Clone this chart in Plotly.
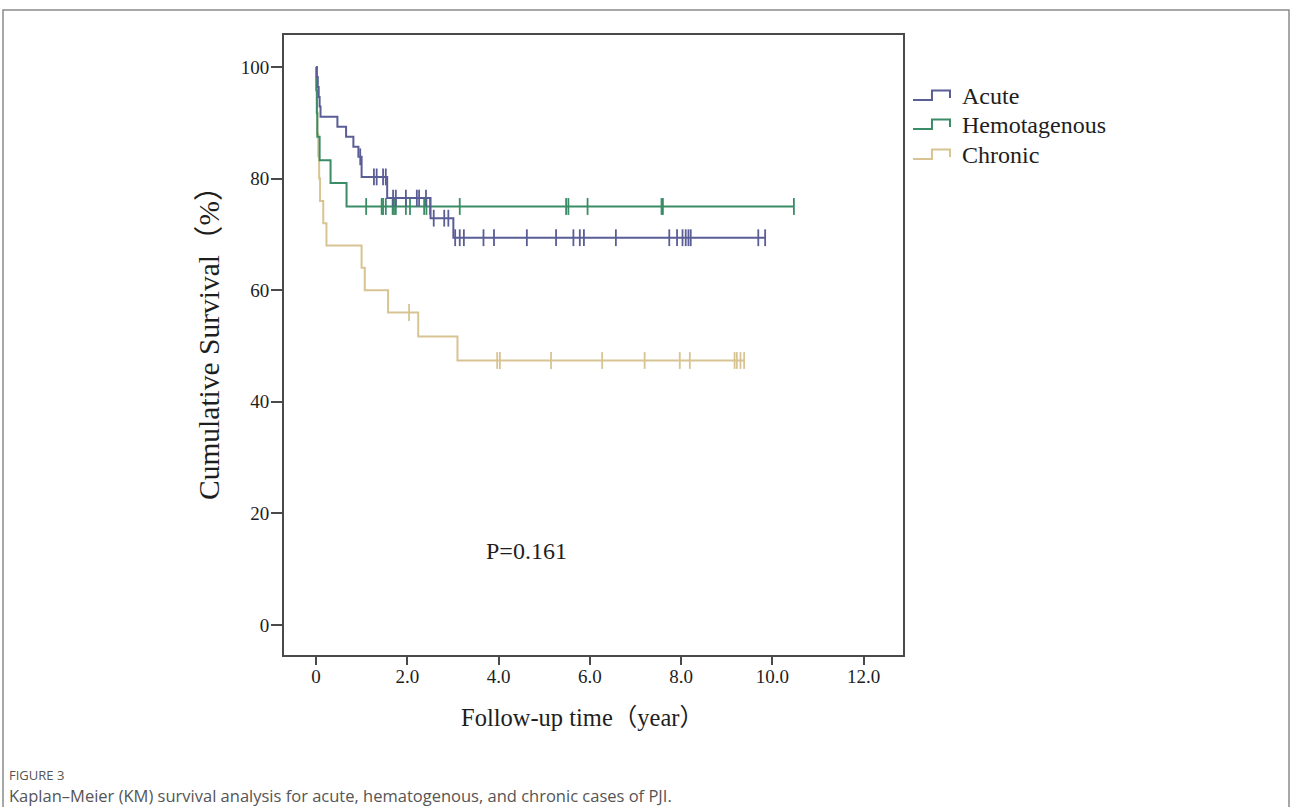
import plotly.graph_objects as go

# ---- Kaplan-Meier data (time in years, survival in %) ----
acute_event_t = [0.02, 0.04, 0.06, 0.08, 0.10, 0.47, 0.66, 0.82, 0.93, 1.00, 1.56, 2.51, 3.01]
acute_surv = [98.2, 96.4, 94.6, 92.9, 91.1, 89.3, 87.5, 85.7, 83.9, 80.3, 76.5, 72.9, 69.4]
acute_censor_t = [0.97, 1.27, 1.33, 1.47, 1.53, 1.69, 1.75, 1.97, 2.21, 2.26, 2.41,
                  2.58, 2.81, 2.90, 3.05, 3.15, 3.24, 3.67, 3.90, 4.62, 5.26, 5.64,
                  5.78, 5.87, 6.57, 7.74, 7.91, 8.03, 8.10, 8.16, 8.21, 9.69, 9.84]

hema_event_t = [0.01, 0.02, 0.03, 0.08, 0.32, 0.67]
hema_surv = [95.8, 91.7, 87.5, 83.3, 79.2, 75.0]
hema_censor_t = [1.10, 1.44, 1.47, 1.53, 1.68, 1.71, 1.75, 1.97, 2.06, 2.37, 2.42,
                 2.50, 3.15, 5.48, 5.53, 5.95, 7.57, 7.60, 10.47]

chronic_event_t = [0.005, 0.02, 0.03, 0.05, 0.07, 0.09, 0.16, 0.23, 1.00, 1.07, 1.58, 2.24, 3.10]
chronic_surv = [96.0, 92.0, 88.0, 84.0, 80.0, 76.0, 72.0, 68.0, 64.0, 60.0, 56.0, 51.7, 47.4]
chronic_censor_t = [2.04, 3.97, 4.03, 5.15, 6.27, 7.20, 7.97, 8.19, 9.17, 9.22, 9.30, 9.38]

group_names = ["Acute", "Hemotagenous", "Chronic"]
group_colors = ["#5a5d96", "#3a8c66", "#d8c392"]

x_tick_vals = [0, 2, 4, 6, 8, 10, 12]
x_tick_text = ["0", "2.0", "4.0", "6.0", "8.0", "10.0", "12.0"]
y_tick_vals = [0, 20, 40, 60, 80, 100]
y_tick_text = ["0", "20", "40", "60", "80", "100"]

p_value_text = "P=0.161"

SERIF = "Liberation Serif, Times New Roman, Noto Sans CJK SC, serif"
SANS = "Open Sans, Noto Sans, sans-serif"
TEXT_COLOR = "#1e1e1e"

# ---- figure geometry (pixels) ----
W, H = 1292, 807
PL, PR, PT, PB = 284, 903, 35, 655   # plot box edges


def px(x):
    return (x - PL) / (PR - PL)


def py(y):
    return (PB - y) / (PB - PT)


def step_series(event_t, surv, censor_t):
    end_t = max([censor_t[-1]] + event_t)
    xs = [0.0] + list(event_t) + [end_t]
    ys = [100.0] + list(surv) + [surv[-1]]
    return xs, ys


def surv_at(t, event_t, surv):
    s = 100.0
    for et, sv in zip(event_t, surv):
        if et <= t:
            s = sv
    return s


groups = [
    (acute_event_t, acute_surv, acute_censor_t),
    (hema_event_t, hema_surv, hema_censor_t),
    (chronic_event_t, chronic_surv, chronic_censor_t),
]

fig = go.Figure()

# draw chronic first so the other curves sit on top of it
for idx in [2, 1, 0]:
    ev, sv, cs = groups[idx]
    color = group_colors[idx]
    xs, ys = step_series(ev, sv, cs)
    fig.add_trace(go.Scatter(
        x=xs, y=ys, mode="lines", line=dict(color=color, width=2, shape="hv"),
        name=group_names[idx], showlegend=False, hoverinfo="skip"))
    fig.add_trace(go.Scatter(
        x=cs, y=[surv_at(t, ev, sv) for t in cs], mode="markers",
        marker=dict(symbol="line-ns", size=12, line=dict(color=color, width=1.8)),
        showlegend=False, hoverinfo="skip"))

axis_common = dict(
    showgrid=False, zeroline=False, showline=True, mirror=True,
    linecolor="#4a4a4a", linewidth=2, ticks="outside", tickwidth=2,
    tickcolor="#4a4a4a", tickfont=dict(family=SERIF, size=19, color=TEXT_COLOR),
)

fig.update_layout(
    width=W, height=H, autosize=False,
    margin=dict(l=PL, r=W - PR, t=PT, b=H - PB, pad=0),
    paper_bgcolor="white", plot_bgcolor="white",
    xaxis=dict(range=[-0.70, 12.86], tickvals=x_tick_vals, ticktext=x_tick_text,
               ticklen=8, ticklabelstandoff=-5, **axis_common),
    yaxis=dict(range=[-5.38, 105.73], tickvals=y_tick_vals, ticktext=y_tick_text,
               ticklen=11, ticklabelstandoff=-2, **axis_common),
    showlegend=False,
)

annotations = [
    dict(text="Cumulative Survival（%）", x=px(209), y=py(336), xref="paper", yref="paper",
         textangle=-90, showarrow=False, xanchor="center", yanchor="middle",
         font=dict(family=SERIF, size=29.5, color=TEXT_COLOR)),
    dict(text="Follow-up time（year）", x=px(582), y=py(717), xref="paper", yref="paper",
         showarrow=False, xanchor="center", yanchor="middle",
         font=dict(family=SERIF, size=24.5, color=TEXT_COLOR)),
    dict(text=p_value_text, x=4.62, y=13.3, xref="x", yref="y",
         showarrow=False, xanchor="center", yanchor="middle",
         font=dict(family=SERIF, size=24, color=TEXT_COLOR)),
    dict(text="FIGURE 3", x=px(7), y=py(775), xref="paper", yref="paper",
         showarrow=False, xanchor="left", yanchor="middle",
         font=dict(family=SANS, size=13, color="#555555")),
    dict(text="Kaplan–Meier (KM) survival analysis for acute, hematogenous, and chronic cases of PJI.",
         x=px(7), y=py(795), xref="paper", yref="paper",
         showarrow=False, xanchor="left", yanchor="middle",
         font=dict(family=SANS, size=16.5, color="#555555")),
]

shapes = []
# custom legend with step-shaped keys
legend_rows = [96, 125, 155]
for name, color, cy in zip(group_names, group_colors, legend_rows):
    path = "M {:.4f},{:.4f} L {:.4f},{:.4f} L {:.4f},{:.4f} L {:.4f},{:.4f} L {:.4f},{:.4f}".format(
        px(913), py(cy + 4), px(932), py(cy + 4), px(932), py(cy - 5.5),
        px(950), py(cy - 5.5), px(950), py(cy + 2))
    shapes.append(dict(type="path", path=path, xref="paper", yref="paper",
                       line=dict(color=color, width=2)))
    annotations.append(dict(text=name, x=px(960), y=py(cy), xref="paper", yref="paper",
                            showarrow=False, xanchor="left", yanchor="middle",
                            font=dict(family=SERIF, size=24, color=TEXT_COLOR)))

# outer figure frame
shapes.append(dict(type="rect", xref="paper", yref="paper",
                   x0=px(3), x1=px(1289), y0=py(840), y1=py(10),
                   line=dict(color="#8a8a8a", width=1.5), fillcolor="rgba(0,0,0,0)",
                   layer="below"))

fig.update_layout(annotations=annotations, shapes=shapes)

fig.write_html("out.html")
